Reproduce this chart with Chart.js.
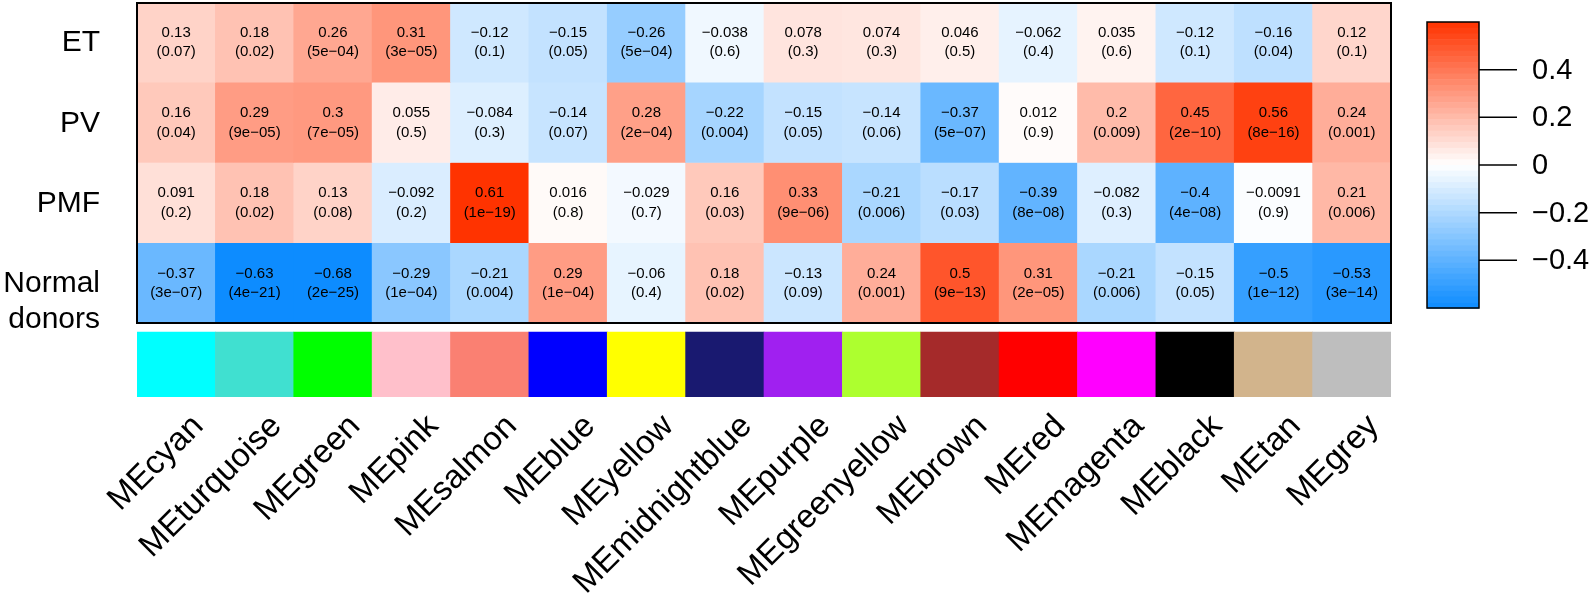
<!DOCTYPE html>
<html><head><meta charset="utf-8">
<script src="https://cdn.jsdelivr.net/npm/chart.js@4"></script>
<style>html,body{margin:0;padding:0;background:#fff;}</style>
</head><body>
<canvas id="c" width="1594" height="595" style="width:1594px;height:595px;display:block"></canvas>
<script>
const modules = ["MEcyan","MEturquoise","MEgreen","MEpink","MEsalmon","MEblue","MEyellow","MEmidnightblue","MEpurple","MEgreenyellow","MEbrown","MEred","MEmagenta","MEblack","MEtan","MEgrey"];
const moduleColors = ["#00FFFF","#40E0D0","#00FF00","#FFC0CB","#FA8072","#0000FF","#FFFF00","#191970","#A020F0","#ADFF2F","#A52A2A","#FF0000","#FF00FF","#000000","#D2B48C","#BEBEBE"];
const traits = ["ET","PV","PMF","Normal donors"];

const corET = [0.13,0.18,0.26,0.31,-0.12,-0.15,-0.26,-0.038,0.078,0.074,0.046,-0.062,0.035,-0.12,-0.16,0.12];
const pET = ["0.07","0.02","5e-04","3e-05","0.1","0.05","5e-04","0.6","0.3","0.3","0.5","0.4","0.6","0.1","0.04","0.1"];
const corPV = [0.16,0.29,0.3,0.055,-0.084,-0.14,0.28,-0.22,-0.15,-0.14,-0.37,0.012,0.2,0.45,0.56,0.24];
const pPV = ["0.04","9e-05","7e-05","0.5","0.3","0.07","2e-04","0.004","0.05","0.06","5e-07","0.9","0.009","2e-10","8e-16","0.001"];
const corPMF = [0.091,0.18,0.13,-0.092,0.61,0.016,-0.029,0.16,0.33,-0.21,-0.17,-0.39,-0.082,-0.4,-0.0091,0.21];
const pPMF = ["0.2","0.02","0.08","0.2","1e-19","0.8","0.7","0.03","9e-06","0.006","0.03","8e-08","0.3","4e-08","0.9","0.006"];
const corND = [-0.37,-0.63,-0.68,-0.29,-0.21,0.29,-0.06,0.18,-0.13,0.24,0.5,0.31,-0.21,-0.15,-0.5,-0.53];
const pND = ["3e-07","4e-21","2e-25","1e-04","0.004","1e-04","0.4","0.02","0.09","0.001","9e-13","2e-05","0.006","0.05","1e-12","3e-14"];

const legendTicks = [0.4, 0.2, 0, -0.2, -0.4];
const zMax = 0.6;

const corRows = [corET, corPV, corPMF, corND];
const pRows = [pET, pPV, pPMF, pND];

const FONT = "'Liberation Sans', Arial, Helvetica, sans-serif";
const minus = s => String(s).replace(/-/g, "\u2212");

function corrColor(v){
  const t = Math.max(-1, Math.min(1, v / zMax));
  const end = t >= 0 ? [255, 51, 0] : [13, 140, 255];
  const a = Math.abs(t);
  const c = end.map(e => Math.round(255 + (e - 255) * a));
  return `rgb(${c[0]},${c[1]},${c[2]})`;
}

// vertical layout in "row units"
const rowPx = 80.25;
const bandTop = 4 + 9 / rowPx;
const bandBottom = bandTop + 65 / rowPx;

const datasets = corRows.map((row, r) => ({
  label: traits[r],
  data: modules.map(() => [r, r + 1]),
  backgroundColor: row.map(corrColor),
  borderWidth: 0,
  barPercentage: 1, categoryPercentage: 1, grouped: false
}));
datasets.push({
  label: "modules",
  data: modules.map(() => [bandTop, bandBottom]),
  backgroundColor: moduleColors,
  borderWidth: 0,
  barPercentage: 1, categoryPercentage: 1, grouped: false
});

const overlay = {
  id: "overlay",
  afterDatasetsDraw(chart){
    const ctx = chart.ctx;
    const xs = chart.scales.x, ys = chart.scales.y;
    const ca = chart.chartArea;
    ctx.save();
    // cell texts
    ctx.fillStyle = "#000";
    ctx.font = `15px ${FONT}`;
    ctx.textAlign = "center";
    ctx.textBaseline = "middle";
    for (let r = 0; r < 4; r++){
      const yc = ys.getPixelForValue(r + 0.5);
      modules.forEach((m, j) => {
        const xc = xs.getPixelForValue(j);
        ctx.fillText(minus(corRows[r][j]), xc, yc - 9.5);
        ctx.fillText("(" + minus(pRows[r][j]) + ")", xc, yc + 10);
      });
    }
    // border
    const y0 = ys.getPixelForValue(0), y4 = ys.getPixelForValue(4);
    ctx.strokeStyle = "#000";
    ctx.lineWidth = 2;
    ctx.strokeRect(ca.left, y0 + 1, ca.right - ca.left, y4 - y0 - 1);
    // row labels
    ctx.font = `30px ${FONT}`;
    ctx.textAlign = "right";
    traits.forEach((t, r) => {
      const yc = ys.getPixelForValue(r + 0.5);
      const parts = t === "Normal donors" ? ["Normal", "donors"] : [t];
      parts.forEach((p, k) => ctx.fillText(p, 100, yc + 1 + k * 36));
    });
    // colour key
    const kx0 = 1427, kx1 = 1479, ky0 = 22, ky1 = 308;
    const n = 50;
    for (let i = 0; i < n; i++){
      const v = zMax - (i + 0.5) * (2 * zMax / n);
      ctx.fillStyle = corrColor(v);
      const ya = ky0 + i * (ky1 - ky0) / n, yb = ky0 + (i + 1) * (ky1 - ky0) / n;
      ctx.fillRect(kx0, ya, kx1 - kx0, yb - ya + 0.6);
    }
    ctx.strokeStyle = "#000";
    ctx.lineWidth = 1.5;
    ctx.strokeRect(kx0, ky0, kx1 - kx0, ky1 - ky0);
    ctx.fillStyle = "#000";
    ctx.font = `29px ${FONT}`;
    ctx.textAlign = "left";
    legendTicks.forEach(v => {
      const y = (ky0 + ky1) / 2 - v / zMax * (ky1 - ky0) / 2;
      ctx.beginPath(); ctx.moveTo(kx1, y); ctx.lineTo(1517, y); ctx.stroke();
      ctx.fillText(v === 0 ? "0" : minus(v), 1532, y + 1);
    });
    ctx.restore();
  }
};

new Chart(document.getElementById("c"), {
  type: "bar",
  data: { labels: modules, datasets },
  options: {
    responsive: false,
    animation: false,
    layout: { padding: { left: 137, right: 203, top: 2, bottom: 0 } },
    plugins: { legend: { display: false }, tooltip: { enabled: false } },
    scales: {
      x: {
        type: "category",
        offset: true,
        grid: { display: false },
        border: { display: false },
        ticks: {
          autoSkip: false, maxRotation: 45, minRotation: 45,
          color: "#000", padding: 2, labelOffset: 22,
          font: { size: 33, family: FONT }
        },
        afterFit(scale){ scale.height = 198; }
      },
      y: {
        type: "linear", reverse: true, min: 0, max: bandBottom,
        display: false
      }
    }
  },
  plugins: [overlay]
});
</script>
</body></html>
